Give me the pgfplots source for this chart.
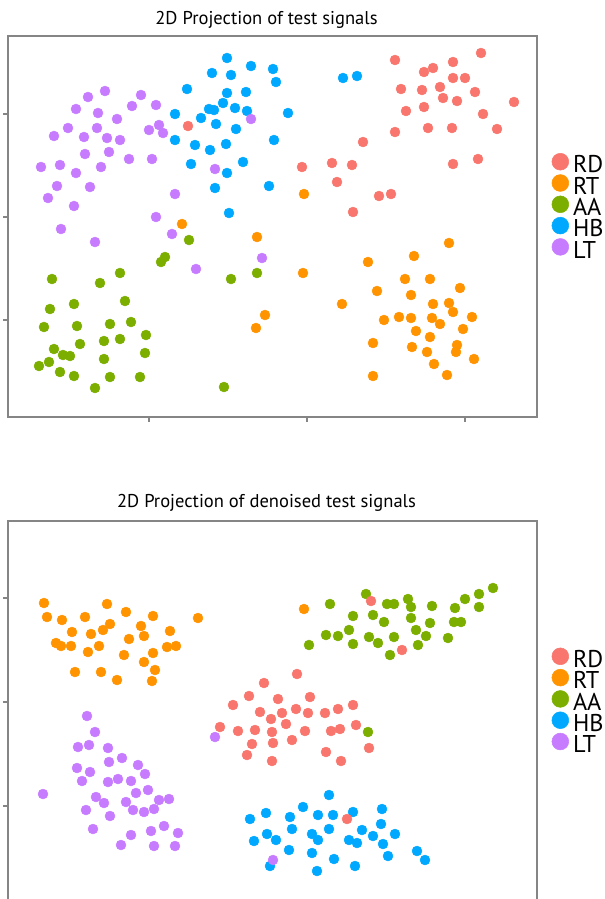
\documentclass[border=0pt]{standalone}
\usepackage{fontspec}
\setmainfont{PT Sans}
\usepackage{pgfplots}
\usepackage{pgfplotstable}
\pgfplotsset{compat=1.18}
\definecolor{cRD}{HTML}{F8766D}
\definecolor{cRT}{HTML}{FF9400}
\definecolor{cAA}{HTML}{7CAE00}
\definecolor{cHB}{HTML}{00A9FF}
\definecolor{cLT}{HTML}{C77CFF}
\definecolor{axgray}{HTML}{858585}

% pixel-space coordinates (y grows downward)
\pgfplotstableread{
x y
188 126
481 53
395 60
453 62
433 68
424 72
453 78
465 78
401 89
422 90
440 87
475 92
443 98
457 101
514 102
406 111
424 107
483 114
428 128
452 128
497 129
395 132
363 142
302 167
332 163
352 165
337 182
379 196
391 194
453 164
478 159
353 212
}\topRD
\pgfplotstableread{
x y
304 194
449 243
414 256
368 262
303 273
405 279
430 279
460 288
377 291
411 295
342 304
433 304
449 303
453 312
384 320
399 317
411 318
432 318
440 324
472 317
463 329
416 331
430 337
373 343
412 347
427 352
457 345
456 352
474 359
434 364
373 376
447 375
182 224
257 237
265 315
256 328
}\topRT
\pgfplotstableread{
x y
189 240
165 257
161 262
231 279
257 273
52 279
100 283
120 273
125 301
74 304
50 309
44 327
77 326
110 324
131 322
146 335
80 344
104 341
120 339
54 349
63 355
70 356
104 359
145 353
39 366
49 362
60 372
74 376
110 377
140 377
95 388
224 387
}\topAA
\pgfplotstableread{
x y
227 58
212 73
231 75
251 66
273 69
276 82
187 89
227 93
246 92
223 103
209 109
214 110
235 108
247 111
175 114
201 118
216 124
236 129
288 113
175 140
195 145
210 150
226 144
274 140
191 164
227 173
243 162
215 188
269 186
229 213
343 78
357 76
}\topHB
\pgfplotstableread{
x y
105 91
88 97
141 95
76 109
98 113
132 106
156 105
117 119
68 128
97 128
54 136
84 137
107 138
120 140
149 130
159 125
163 133
85 154
109 152
129 159
152 159
41 167
60 165
101 167
76 173
57 186
90 187
48 198
74 206
251 119
215 169
175 194
156 217
61 229
95 242
172 234
196 269
262 258
}\topLT

\pgfplotstableread{
x y
371 601
402 650
297 674
310 697
264 683
249 696
233 705
278 699
260 712
282 713
296 709
308 713
325 713
338 709
353 705
271 719
286 724
220 727
238 731
255 730
272 732
305 731
331 731
340 729
356 725
252 744
273 743
292 740
369 748
247 755
326 752
272 761
341 761
347 819
}\botRD
\pgfplotstableread{
x y
44 603
107 604
47 617
62 620
85 617
126 612
153 616
198 618
110 624
141 626
72 632
91 634
103 630
170 631
144 636
129 639
56 643
61 646
71 646
99 646
167 647
176 646
88 652
124 655
153 653
144 662
75 672
101 672
155 670
117 680
152 681
304 609
}\botRT
\pgfplotstableread{
x y
493 588
479 594
465 599
479 607
366 594
408 599
330 604
387 604
394 604
411 607
432 606
455 608
353 616
373 615
411 618
384 622
430 623
454 622
461 622
349 630
416 630
326 635
338 636
369 637
394 637
426 636
448 638
309 645
353 644
378 643
418 645
390 655
368 732
}\botAA
\pgfplotstableread{
x y
329 795
303 807
382 809
266 813
250 819
290 817
318 815
333 815
353 812
381 824
292 829
329 829
267 834
312 834
362 830
395 834
373 836
254 841
276 840
318 840
349 840
357 843
383 844
289 850
312 853
388 856
417 851
425 860
334 859
270 866
355 866
317 871
}\botHB
\pgfplotstableread{
x y
87 716
95 732
78 747
89 745
108 748
122 758
109 762
77 768
90 772
138 765
145 774
82 781
108 782
118 779
131 781
148 790
136 793
43 794
96 797
104 803
126 802
159 800
169 799
86 810
133 810
144 812
154 809
110 816
164 826
93 829
151 831
178 833
131 835
121 845
154 846
175 846
215 737
273 860
}\botLT

\pgfplotsset{
  proj/.style={
    scale only axis,
    width=396.75pt,
    xmin=8, xmax=537,
    y dir=reverse,
    axis line style={draw=axgray, line width=1pt},
    tick align=outside,
    major tick length=3.5pt,
    tick style={draw=axgray, line width=0.9pt},
    xtick pos=bottom, ytick pos=left,
    xticklabels={}, yticklabels={},
    legend style={draw=none, fill=none, inner sep=0pt, outer sep=0pt,
      font=\fontsize{18.2}{18}\selectfont,
      row sep=1.1pt, column sep=3pt,
      nodes={inner sep=0pt, outer sep=0pt, text height=12.75pt, text depth=0pt}},
    legend cell align=left,
    legend image code/.code={\fill (6.3pt,2pt) circle (6.3pt);},
    title style={font=\fontsize{13.9}{15}\selectfont, at={(0.5,1)}, anchor=base, xshift=-4.5pt},
  },
  pts/.style={only marks, mark=*, mark size=3.7pt, mark options={draw=none, fill=#1}, color=#1, forget plot},
}

\begin{document}
\begin{tikzpicture}
\begin{axis}[proj,
  at={(6pt,-27pt)}, anchor=north west,
  height=285.75pt,
  ymin=36, ymax=417,
  xtick={149,307,465}, ytick={114,217,320},
  title={2D Projection of test signals},
  title style={yshift=3pt},
  legend style={at={(1,0.555)}, anchor=west, xshift=11pt},
]
\addlegendimage{cRD}\addlegendentry{RD}
\addlegendimage{cRT}\addlegendentry{RT}
\addlegendimage{cAA}\addlegendentry{AA}
\addlegendimage{cHB}\addlegendentry{HB}
\addlegendimage{cLT}\addlegendentry{LT}
\addplot[pts=cRT] table {\topRT};
\addplot[pts=cAA] table {\topAA};
\addplot[pts=cHB] table {\topHB};
\addplot[pts=cRD] table {\topRD};
\addplot[pts=cLT] table {\topLT};
\end{axis}

\begin{axis}[proj,
  at={(6pt,-390.75pt)}, anchor=north west,
  height=286.5pt,
  ymin=521, ymax=903,
  xtick={149,307,465}, ytick={598,702,806},
  title={2D Projection of denoised test signals},
  title style={yshift=4pt},
  legend style={at={(1,0.531)}, anchor=west, xshift=11pt},
]
\addlegendimage{cRD}\addlegendentry{RD}
\addlegendimage{cRT}\addlegendentry{RT}
\addlegendimage{cAA}\addlegendentry{AA}
\addlegendimage{cHB}\addlegendentry{HB}
\addlegendimage{cLT}\addlegendentry{LT}
\addplot[pts=cRT] table {\botRT};
\addplot[pts=cAA] table {\botAA};
\addplot[pts=cHB] table {\botHB};
\addplot[pts=cRD] table {\botRD};
\addplot[pts=cLT] table {\botLT};
\end{axis}
\pgfresetboundingbox
\path (0pt,0pt) rectangle (453pt,-674.25pt);
\end{tikzpicture}
\end{document}
